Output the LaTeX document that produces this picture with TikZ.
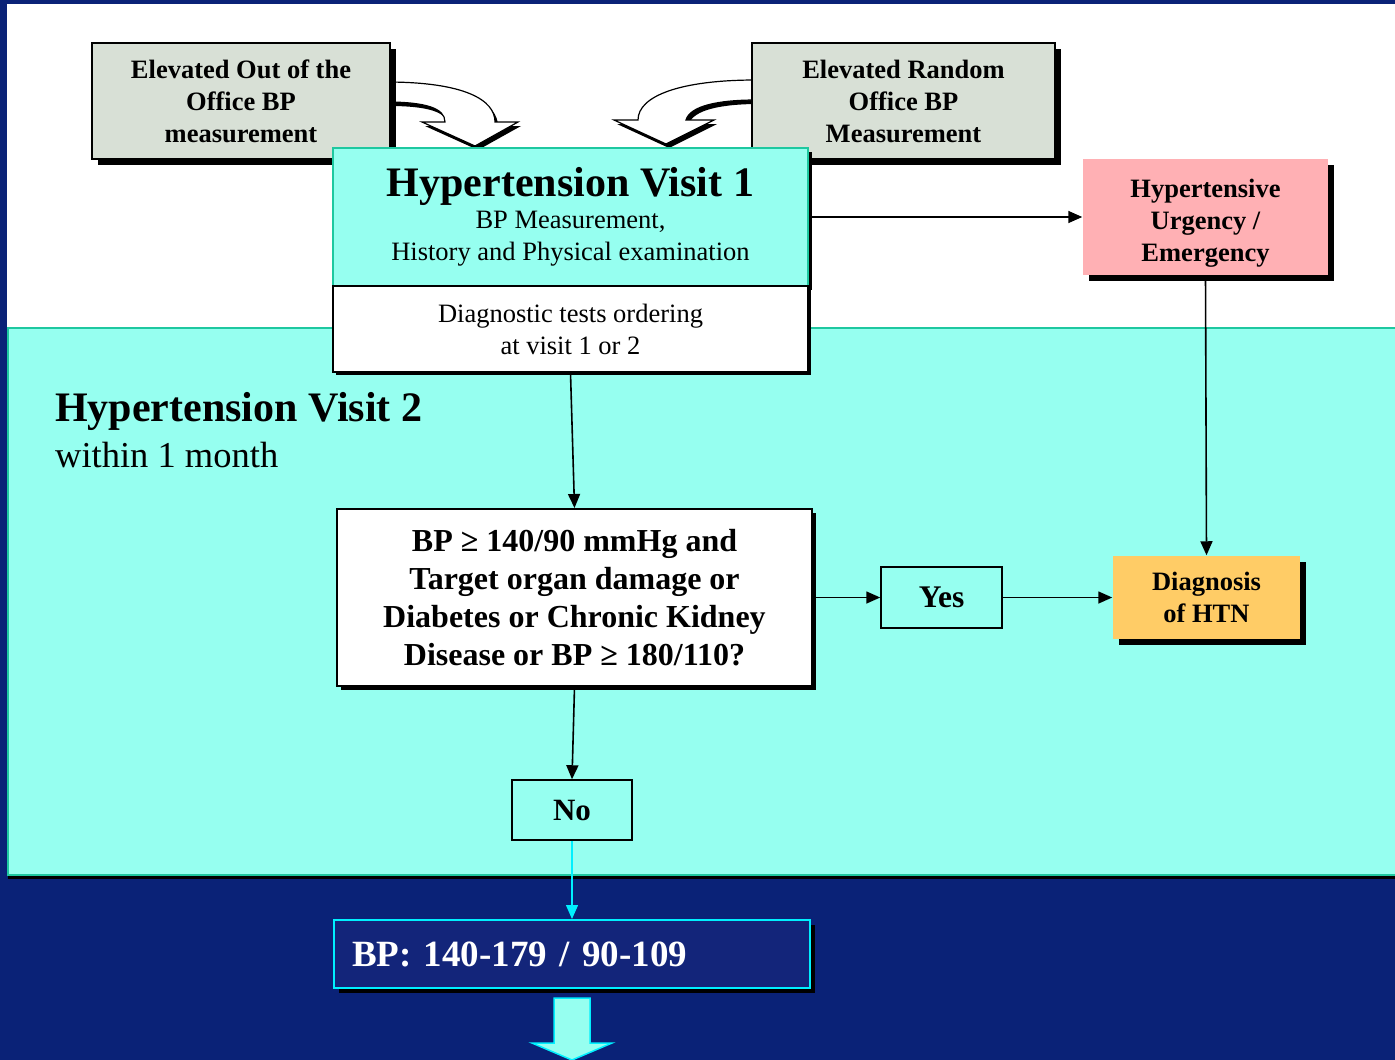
\documentclass[tikz,border=0pt]{standalone}
\usepackage{fontspec}
\setmainfont{Liberation Serif}
\usetikzlibrary{arrows.meta,shadows}
\definecolor{slidenavy}{HTML}{0A2277}
\definecolor{rangenavy}{HTML}{13257A}
\definecolor{visitaqua}{HTML}{96FFF0}
\definecolor{aquaedge}{HTML}{1EC8A0}
\definecolor{sourcegrey}{HTML}{D8E0D6}
\definecolor{urgpink}{HTML}{FFB0B4}
\definecolor{dxorange}{HTML}{FFCC66}
\definecolor{linkcyan}{HTML}{00F0FF}
\newcommand{\fsz}[2]{\fontsize{#1}{#2}\selectfont}
\tikzset{
  shd/.style={general shadow={fill=black, shadow xshift=#1, shadow yshift=-#1}},
  shd/.default=5pt,
  box/.style={draw=black, line width=1.5pt, align=center, inner sep=0pt,
              font=\bfseries\fsz{26.5}{32}},
  src/.style={box, fill=sourcegrey, line width=1.2pt, minimum height=116pt, shd=6pt},
  flow/.style={-{Triangle[length=14pt,width=12pt]}, line width=1.6pt, draw=black},
  curvearrow/.style={fill=white, draw=black, line width=1.2pt,
               general shadow={fill=black, shadow xshift=3pt, shadow yshift=-4pt}},
}

\begin{document}
\begin{tikzpicture}[x=1pt, y=-1pt]
\useasboundingbox (0,0) rectangle (1395,1060);

% ------------------------- slide background -----------------------------
\fill[slidenavy] (0,0) rectangle (1395,1060);
\fill[white] (7,4) rectangle (1400,328);
\fill[black] (8,332) rectangle (1400,879);
\filldraw[fill=visitaqua, draw=aquaedge, line width=2pt] (8,328) rectangle (1400,875);

% ------------------------- sources --------------------------------------
\path[curvearrow] (386,82) .. controls (465,82) and (495,100) .. (495,122)
   -- (518,122) -- (475,146) -- (422,122) -- (445,122)
   .. controls (445,108) and (425,102) .. (386,102) -- cycle;
\path[curvearrow] (756,80) .. controls (680,80) and (638,96) .. (638,120)
   -- (614,120) -- (666,144) -- (714,120) -- (686,120)
   .. controls (690,106) and (718,100) .. (756,100) -- cycle;

\node[src, minimum width=298pt] at (241,101) (outoff)
   {Elevated Out of the\\Office BP\\measurement};
\node[src, minimum width=303pt] at (903.5,101) (random)
   {Elevated Random\\Office BP\\Measurement};

% ------------------------- visit 1 --------------------------------------
\node[box, fill=visitaqua, draw=aquaedge, line width=2pt, minimum width=475pt,
      minimum height=138pt, font=\fsz{26.5}{32}, shd=4pt] at (570.5,217) (v1)
   {{\fsz{42}{38}\bfseries Hypertension Visit 1}\\
    BP Measurement,\\History and Physical examination};
\node[box, fill=white, minimum width=475pt, minimum height=86pt,
      font=\fsz{26.5}{32}, shd=3pt] at (570.5,329) (tests)
   {Diagnostic tests ordering\\at visit 1 or 2};

\node[box, draw=none, fill=urgpink, minimum width=245pt, minimum height=116pt,
      shd=6pt] at (1205.5,217) (urg)
   {\rule{0pt}{30pt}Hypertensive\\Urgency /\\Emergency};
\draw[flow] (v1.east) -- (urg.west);

% ------------------------- visit 2 --------------------------------------
\node[anchor=base west, inner sep=0pt, font=\bfseries\fsz{42}{44}] at (55,421) (v2lbl)
   {Hypertension Visit 2};
\node[anchor=base west, inner sep=0pt, font=\fsz{36.5}{40}] at (55,467) (v2sub)
   {within 1 month};

\node[box, fill=white, line width=2pt, minimum width=475pt, minimum height=177pt,
      font=\bfseries\fsz{32}{38}, shd=4pt] at (574.5,597.5) (bpq)
   {BP ≥ 140/90 mmHg and\\Target organ damage or\\Diabetes or Chronic Kidney\\
    Disease or BP ≥ 180/110?};
\draw[flow] (tests.south) -- (bpq.north);

\node[box, minimum width=121pt, minimum height=61pt, font=\bfseries\fsz{31.5}{36}]
   at (941.5,597.5) (yes) {Yes};
\node[box, draw=none, fill=dxorange, minimum width=187pt, minimum height=83pt,
      shd=6pt] at (1206.5,597.5) (dx) {Diagnosis\\of HTN};
\draw[flow] (bpq.east) -- (yes.west);
\draw[flow] (yes.east) -- (dx.west);
\draw[flow] (urg.south) -- (dx.north);

\node[box, minimum width=120pt, minimum height=60pt, font=\bfseries\fsz{31}{36}]
   at (572,810) (no) {No};
\draw[flow] (bpq.south) -- (no.north);

% ------------------------- bp range -------------------------------------
\node[box, fill=rangenavy, draw=linkcyan, line width=2pt, text=white,
      text width=440pt, inner xsep=18pt, minimum height=68pt, align=left,
      font=\bfseries\fsz{37}{40}, shd=5pt] at (572,954) (range)
   {BP: 140-179 / 90-109};
\draw[flow, draw=linkcyan, line width=1.4pt] (no.south) -- (range.north);

\filldraw[fill=visitaqua, draw=linkcyan, line width=1.5pt]
   (554,998) -- (590,998) -- (590,1043) -- (612,1043) -- (572,1060)
   -- (532,1043) -- (554,1043) -- cycle;
\end{tikzpicture}
\end{document}
